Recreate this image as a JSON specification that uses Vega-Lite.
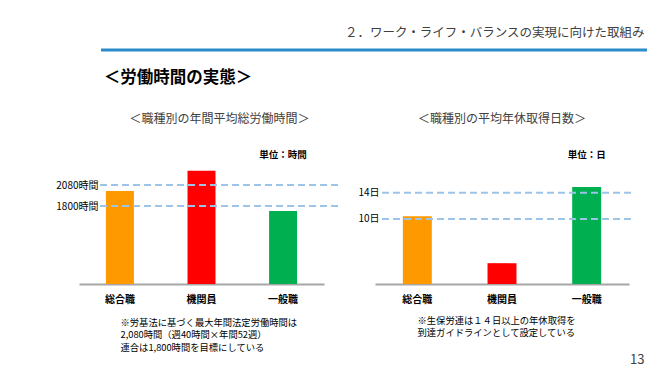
{
  "$schema": "https://vega.github.io/schema/vega-lite/v6.json",
  "background": "white",
  "padding": {"left": 55, "top": 27, "right": 3, "bottom": 0},
  "config": {
    "font": "Noto Sans CJK JP",
    "view": {"stroke": null},
    "title": {"font": "Noto Sans CJK JP"},
    "axis": {"labelFont": "Noto Sans CJK JP", "titleFont": "Noto Sans CJK JP"}
  },
  "datasets": {
    "hours": [
      {"job": "総合職", "value": 2000},
      {"job": "機関員", "value": 2270},
      {"job": "一般職", "value": 1735}
    ],
    "days": [
      {"job": "総合職", "value": 10.4},
      {"job": "機関員", "value": 3.2},
      {"job": "一般職", "value": 14.9}
    ],
    "hourRefs": [{"ref": 1800}, {"ref": 2080}],
    "dayRefs": [{"ref": 10}, {"ref": 14}]
  },
  "title": {"text": "13", "orient": "bottom", "anchor": "end", "fontSize": 13, "fontWeight": "normal", "color": "#404040", "offset": 2, "dx": -4},
  "spacing": 17,
  "vconcat": [
    {
      "width": 568,
      "height": 1,
      "data": {"values": [{"start": 0, "end": 1}]},
      "mark": {"type": "rule", "color": "#2A8BCB", "strokeWidth": 3},
      "encoding": {
        "x": {"field": "start", "type": "quantitative", "scale": {"domain": [0, 1], "range": [22, 568]}, "axis": null},
        "x2": {"field": "end"},
        "y": {"datum": 1, "scale": {"domain": [0, 1]}, "axis": null}
      },
      "title": {"text": "２．ワーク・ライフ・バランスの実現に向けた取組み", "anchor": "end", "fontSize": 12.5, "fontWeight": "normal", "color": "#404040", "offset": 9, "dx": -4}
    },
    {
      "title": {"text": "＜労働時間の実態＞", "anchor": "start", "fontSize": 16.5, "fontWeight": "bold", "color": "#000000", "dx": 48, "offset": 27},
      "spacing": 16,
      "hconcat": [
        {
          "width": 245,
          "height": 138,
          "title": {"text": "＜職種別の年間平均総労働時間＞", "fontSize": 12, "fontWeight": "normal", "color": "#404040", "frame": "group", "anchor": "middle", "dx": 18, "offset": 20},
          "layer": [
            {
              "data": {"name": "hours"},
              "mark": {"type": "bar"},
              "encoding": {
                "x": {"field": "job", "type": "nominal", "sort": ["総合職", "機関員", "一般職"],
                  "scale": {"domain": ["総合職", "機関員", "一般職"], "paddingInner": 0.657, "paddingOuter": 0.33},
                  "axis": {
                    "title": ["※労基法に基づく最大年間法定労働時間は", "　2,080時間（週40時間×年間52週）", "　連合は1,800時間を目標にしている"],
                    "titleFontSize": 9.3, "titleFontWeight": "normal", "titleColor": "#000000",
                    "titleAlign": "left", "titleAnchor": "start", "titleX": 41, "titleY": 34, "titleBaseline": "top", "titleLineHeight": 12.5,
                    "labelAngle": 0, "labelFontSize": 10, "labelFontWeight": "bold", "labelColor": "#000000", "labelPadding": 10,
                    "ticks": false, "domainColor": "#A6A6A6", "domainWidth": 2, "grid": false
                  }
                },
                "y": {"field": "value", "type": "quantitative",
                  "scale": {"domain": [760, 2600], "zero": false, "nice": false},
                  "axis": {"values": [1800, 2080], "labelExpr": "datum.value + '時間'", "title": null, "domain": false, "ticks": false, "grid": false, "offset": -21, "labelPadding": 2, "labelFontSize": 10, "labelColor": "#000000"}
                },
                "y2": {"datum": 760},
                "color": {"field": "job", "type": "nominal",
                  "scale": {"domain": ["総合職", "機関員", "一般職"], "range": ["#FF9900", "#FF0000", "#00B050"]}, "legend": null}
              }
            },
            {
              "data": {"name": "hourRefs"},
              "mark": {"type": "rule", "color": "#9DC3E6", "strokeWidth": 2, "strokeDash": [7, 4]},
              "encoding": {
                "y": {"field": "ref", "type": "quantitative"},
                "x": {"datum": "総合職", "bandPosition": -0.21},
                "x2": {"datum": "一般職", "bandPosition": 2.5}
              }
            },
            {
              "data": {"values": [{"unit": "単位：時間"}]},
              "mark": {"type": "text", "fontSize": 9.5, "fontWeight": "bold", "color": "#000000"},
              "encoding": {"x": {"datum": "一般職"}, "y": {"datum": 2480}, "text": {"field": "unit"}}
            }
          ]
        },
        {
          "width": 254,
          "height": 138,
          "title": {"text": "＜職種別の平均年休取得日数＞", "fontSize": 12, "fontWeight": "normal", "color": "#404040", "frame": "group", "anchor": "middle", "dx": 0, "offset": 20},
          "layer": [
            {
              "data": {"name": "days"},
              "mark": {"type": "bar"},
              "encoding": {
                "x": {"field": "job", "type": "nominal", "sort": ["総合職", "機関員", "一般職"],
                  "scale": {"domain": ["総合職", "機関員", "一般職"], "paddingInner": 0.658, "paddingOuter": 0.329},
                  "axis": {
                    "title": ["※生保労連は１４日以上の年休取得を", "　到達ガイドラインとして設定している"],
                    "titleFontSize": 9.3, "titleFontWeight": "normal", "titleColor": "#000000",
                    "titleAlign": "left", "titleAnchor": "start", "titleX": 42, "titleY": 32, "titleBaseline": "top", "titleLineHeight": 12.5,
                    "labelAngle": 0, "labelFontSize": 10, "labelFontWeight": "bold", "labelColor": "#000000", "labelPadding": 10,
                    "ticks": false, "domainColor": "#A6A6A6", "domainWidth": 2, "grid": false
                  }
                },
                "y": {"field": "value", "type": "quantitative",
                  "scale": {"domain": [0, 21.2], "nice": false},
                  "axis": {"values": [10, 14], "labelExpr": "datum.value + '日'", "title": null, "domain": false, "ticks": false, "grid": false, "offset": -6, "labelPadding": 2, "labelFontSize": 10, "labelColor": "#000000"}
                },
                "y2": {"datum": 0},
                "color": {"field": "job", "type": "nominal",
                  "scale": {"domain": ["総合職", "機関員", "一般職"], "range": ["#FF9900", "#FF0000", "#00B050"]}, "legend": null}
              }
            },
            {
              "data": {"name": "dayRefs"},
              "mark": {"type": "rule", "color": "#9DC3E6", "strokeWidth": 2, "strokeDash": [7, 4]},
              "encoding": {
                "y": {"field": "ref", "type": "quantitative"},
                "x": {"datum": "総合職", "bandPosition": -0.72},
                "x2": {"datum": "一般職", "bandPosition": 2.17}
              }
            },
            {
              "data": {"values": [{"unit": "単位：日"}]},
              "mark": {"type": "text", "fontSize": 9.5, "fontWeight": "bold", "color": "#000000"},
              "encoding": {"x": {"datum": "一般職"}, "y": {"datum": 19.8}, "text": {"field": "unit"}}
            }
          ]
        }
      ]
    }
  ]
}
